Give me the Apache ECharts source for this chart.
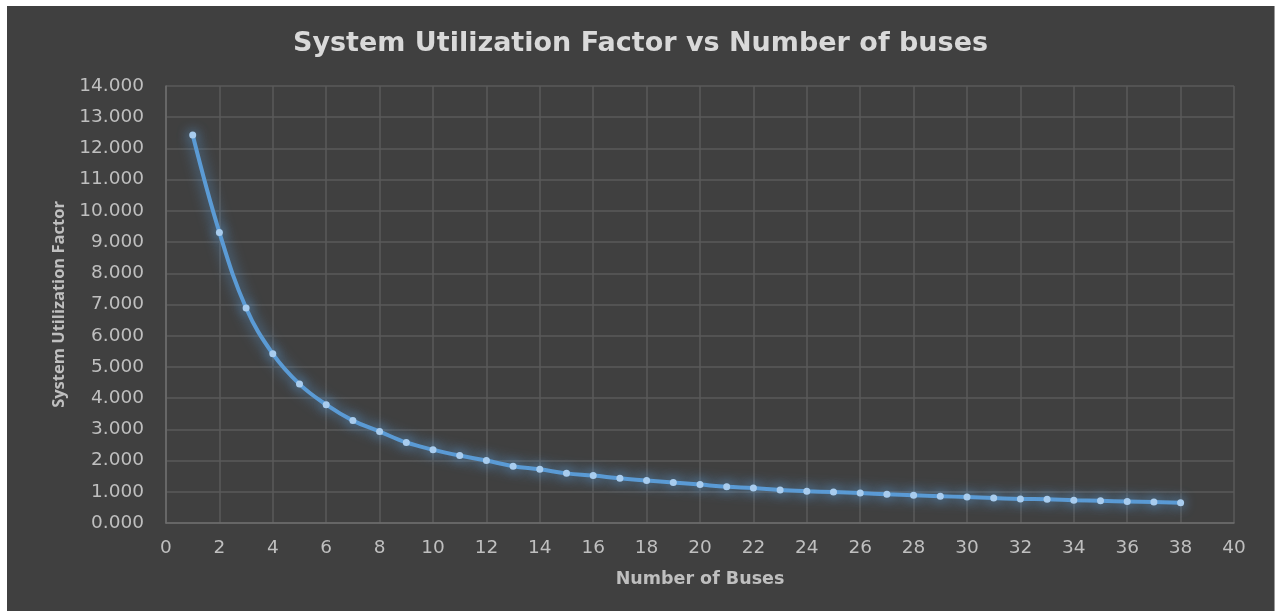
<!DOCTYPE html>
<html>
<head>
<meta charset="utf-8">
<script src="https://cdn.jsdelivr.net/npm/echarts@6/dist/echarts.min.js"></script>
<style>
html,body{margin:0;padding:0;background:#ffffff;width:1276px;height:611px;overflow:hidden;}
#chart{position:absolute;left:7px;top:6px;width:1267px;height:605px;background:#404040;border-right:1px solid #9a9a9a;}
</style>
</head>
<body>
<div id="chart"></div>
<script>
var titleText = 'System Utilization Factor vs Number of buses';
var xAxisName = 'Number of Buses';
var yAxisName = 'System Utilization Factor';
var buses = [1,2,3,4,5,6,7,8,9,10,11,12,13,14,15,16,17,18,19,20,21,22,23,24,25,26,27,28,29,30,31,32,33,34,35,36,37,38];
var utilization = [12.43,9.31,6.89,5.42,4.45,3.79,3.28,2.93,2.58,2.35,2.16,2.00,1.82,1.72,1.59,1.52,1.43,1.36,1.30,1.23,1.16,1.12,1.06,1.02,0.99,0.96,0.92,0.89,0.86,0.83,0.80,0.77,0.76,0.73,0.71,0.69,0.67,0.65];

var points = buses.map(function(b,i){return [b, utilization[i]];});

var chart = echarts.init(document.getElementById('chart'), null, {renderer:'canvas'});
chart.setOption({
  backgroundColor:'#404040',
  animation:false,
  title:{
    text:titleText,
    left:'center',
    top:19,
    textStyle:{color:'#d9d9d9',fontSize:27,fontWeight:'bold',fontFamily:'DejaVu Sans'}
  },
  grid:{left:159,right:40,top:80,bottom:88,containLabel:false},
  xAxis:{
    type:'value',min:0,max:40,interval:2,
    name:xAxisName,nameLocation:'middle',nameGap:47,
    nameTextStyle:{color:'#bfbfbf',fontSize:17.5,fontWeight:'bold',fontFamily:'DejaVu Sans'},
    axisLine:{show:true,lineStyle:{color:'#6e6e6e',width:1.5}},
    axisTick:{show:false},
    axisLabel:{color:'#bfbfbf',fontSize:18.5,margin:16,fontFamily:'DejaVu Sans'},
    splitLine:{show:true,lineStyle:{color:'#5a5a5a',width:1.5}}
  },
  yAxis:{
    type:'value',min:0,max:14,interval:1,
    name:yAxisName,nameLocation:'middle',nameGap:98,
    nameTextStyle:{color:'#bfbfbf',fontSize:16.5,fontWeight:'bold',fontFamily:'Open Sans'},
    axisLine:{show:true,lineStyle:{color:'#6e6e6e',width:1.5}},
    axisTick:{show:false},
    axisLabel:{color:'#bfbfbf',fontSize:18.5,margin:22,fontFamily:'DejaVu Sans',
      formatter:function(v){return v.toFixed(3);}},
    splitLine:{show:true,lineStyle:{color:'#5a5a5a',width:1.5}}
  },
  series:[{
    type:'line',
    data:points,
    smooth:0.4,
    symbol:'circle',
    symbolSize:7,
    lineStyle:{color:'#5b9bd5',width:4,shadowColor:'rgba(91,155,213,0.95)',shadowBlur:14},
    itemStyle:{color:'#a8ccee',borderWidth:0,shadowColor:'rgba(91,155,213,0.95)',shadowBlur:12}
  }]
});
</script>
</body>
</html>
